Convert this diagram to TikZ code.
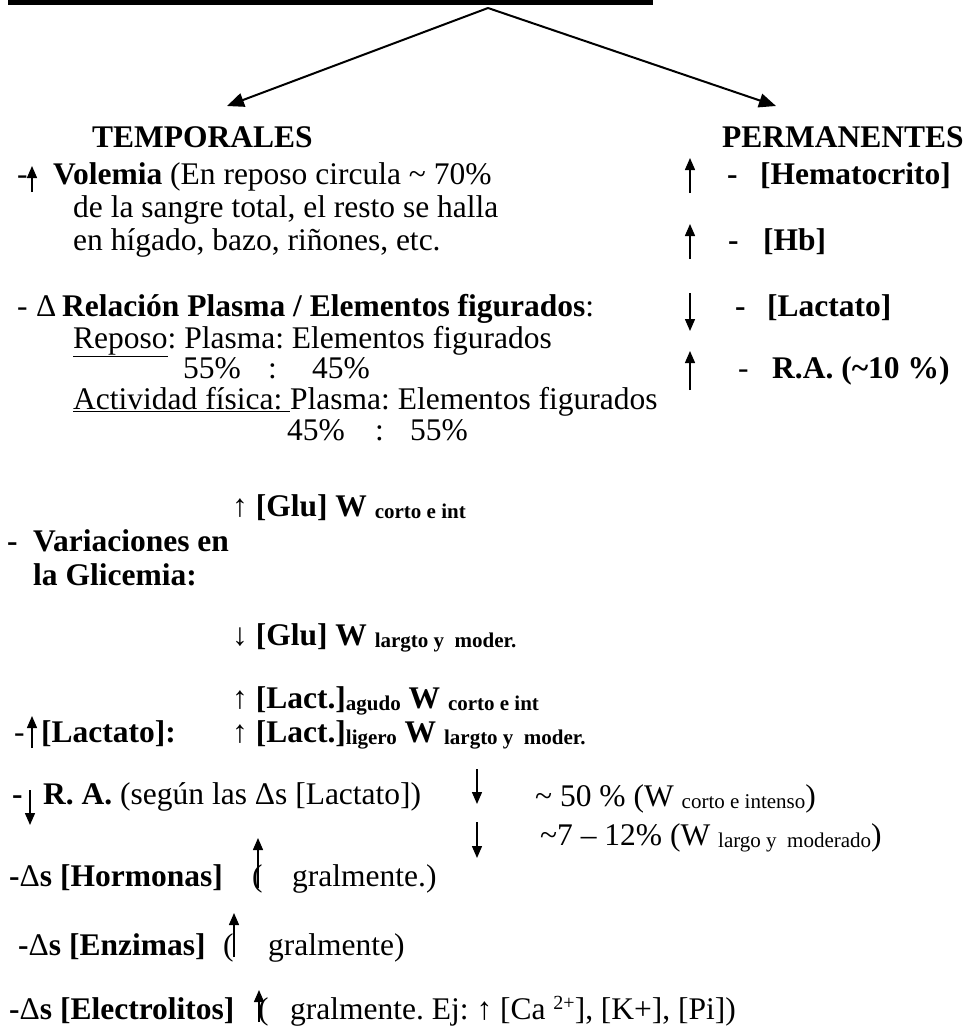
\documentclass[tikz,border=0pt]{standalone}
\usepackage{fontspec}
\setmainfont{Liberation Serif}
\usepackage{tikz}
\usetikzlibrary{arrows.meta}
\tikzstyle{txt}=[anchor=base west,inner sep=0pt,font=\fontsize{31.5}{36}\selectfont]
\tikzstyle{btxt}=[txt,font=\fontsize{31.5}{36}\selectfont\bfseries]
\tikzstyle{shaft}=[line width=1.4pt,-{Triangle[length=12pt,width=10pt]}]
\tikzstyle{branch}=[line width=2pt,-{Triangle[length=17pt,width=14pt]}]
\newcommand{\lowtxt}[1]{\raisebox{-2pt}{\fontsize{21}{24}\selectfont #1}}
\frenchspacing

\begin{document}
\begin{tikzpicture}[x=1pt,y=-1pt]
\useasboundingbox (0,0) rectangle (969,1034);
% rule under the title and the two branches
\fill (8,0) rectangle (653,5);
\coordinate (apex) at (488,8);
\coordinate (tleft) at (227,106);
\coordinate (tright) at (776,106);
\draw[branch] (apex) -- (tleft);
\draw[branch] (apex) -- (tright);

\node[btxt] (temp) at (92,147) {TEMPORALES};
\node[btxt] (perm) at (722,147) {PERMANENTES};

% permanentes
\node[btxt] (hdash) at (727,184) {-};
\node[btxt] (hto) at (760,184) {[Hematocrito]};
\node[btxt] (hbdash) at (728,250) {-};
\node[btxt] (hb) at (763,250) {[Hb]};
\node[btxt] (ldash) at (735,316) {-};
\node[btxt] (lac) at (767,316) {[Lactato]};
\node[txt] (rdash) at (738,378) {-};
\node[btxt] (ra) at (772,378) {R.A. (\textasciitilde10 \%)};

% temporales
\node[txt] (vdash) at (17,184) {-};
\node[txt] (vol) at (53,184) {\textbf{Volemia} (En reposo circula \textasciitilde{} 70\%};
\node[txt] (vol2) at (73,217) {de la sangre total, el resto se halla};
\node[txt] (vol3) at (73,250) {en hígado, bazo, riñones, etc.};

\node[txt] (pdash) at (17,316) {-};
\node[txt] (delta) at (36,316) {Δ};
\node[txt] (rel) at (62,316) {\textbf{Relación Plasma / Elementos figurados}:};
\node[txt] (rep) at (73,348) {\underline{Reposo}: Plasma: Elementos figurados};
\node[txt] (rpa) at (183,378) {55\%};
\node[txt] (rpb) at (268,378) {:};
\node[txt] (rpc) at (312,378) {45\%};
\node[txt] (act) at (73,409) {\underline{Actividad física:\ }Plasma: Elementos figurados};
\node[txt] (aca) at (287,440) {45\%};
\node[txt] (acb) at (375,440) {:};
\node[txt] (acc) at (410,440) {55\%};

\node[txt] (gup) at (232,516) {↑ \textbf{[Glu] W \lowtxt{corto e int}}};
\node[btxt] (gdash) at (7,551) {-};
\node[btxt] (gvar) at (33,551) {Variaciones en};
\node[btxt] (ggli) at (33,585) {la Glicemia:};
\node[txt] (gdown) at (232,645) {↓ \textbf{[Glu] W \lowtxt{largto y\ \ moder.}}};

\node[txt] (lup1) at (232,708) {↑ \textbf{[Lact.]\lowtxt{agudo} W \lowtxt{corto e int}}};
\node[txt] (ltdash) at (14,742) {-};
\node[btxt] (lt) at (41,742) {[Lactato]:};
\node[txt] (lup2) at (232,742) {↑ \textbf{[Lact.]\lowtxt{ligero} W \lowtxt{largto y\ \ moder.}}};

\node[btxt] (radash) at (12,804) {-};
\node[txt] (ratxt) at (43,804) {\textbf{R. A.} (según las Δs [Lactato])};
\node[txt] (ra1) at (535,806) {\textasciitilde{} 50 \% (W \lowtxt{corto e intenso})};
\node[txt] (ra2) at (540,845) {\textasciitilde7 -- 12\% (W \lowtxt{largo y\ \ moderado})};

\node[btxt] (hor) at (9,886) {-{\mdseries Δ}s [Hormonas]};
\node[txt] (horp) at (252,886) {(};
\node[txt] (hor2) at (292,886) {gralmente.)};
\node[btxt] (enz) at (18,955) {-{\mdseries Δ}s [Enzimas]};
\node[txt] (enzp) at (223,955) {(};
\node[txt] (enz2) at (268,955) {gralmente)};
\node[btxt] (ele) at (9,1019) {-{\mdseries Δ}s [Electrolitos]};
\node[txt] (elep) at (258,1019) {(};
\node[txt] (ele2) at (290,1019) {gralmente. Ej: ↑ [Ca \raisebox{10pt}{\fontsize{20}{22}\selectfont 2+}], [K+], [Pi])};

% small drawn arrows: x / tail / tip
\foreach \x/\from/\to in {32/192/166, 690/193/158, 690/259/224, 690/293/331,
    690/390/351, 32/748/716, 30/790/825, 477/769/804, 477/822/858,
    258/888/838, 234/957/913, 259/1022/990}
  \draw[shaft] (\x,\from) -- (\x,\to);
\end{tikzpicture}
\end{document}
